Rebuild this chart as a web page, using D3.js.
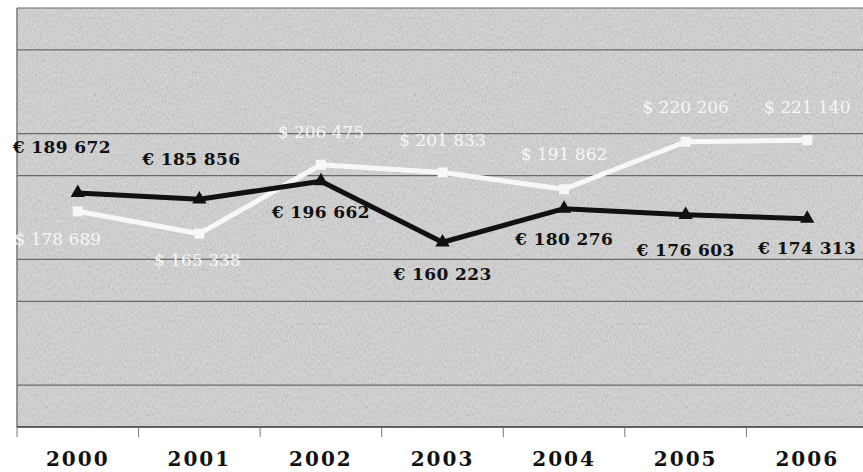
<!DOCTYPE html>
<html>
<head>
<meta charset="utf-8">
<script src="https://cdn.jsdelivr.net/npm/d3@7"></script>
<style>
  body { margin: 0; background: #fff; }
  svg { display: block; }
</style>
</head>
<body>
<div id="chart"></div>
<script>
// data
var years = ["2000", "2001", "2002", "2003", "2004", "2005", "2006"];
var euroValues = [189672, 185856, 196662, 160223, 180276, 176603, 174313];
var dollarValues = [178689, 165338, 206475, 201833, 191862, 220206, 221140];
var gridValues = [75000, 125000, 150000, 200000, 225000, 275000, 300000];

// where each value label sits relative to its point (px)
var euroLabelDx = [-16, -8, 0, 0, 0, 0, 0];
var euroLabelDy = [-46, -40, 31, 32, 30, 35, 29];
var dollarLabelDx = [-20, -2, 0, 0, 0, 0, 0];
var dollarLabelDy = [28, 26, -33, -33, -35, -35, -33];

var svgWidth = 863;
var svgHeight = 472;

var plot = { left: 17, right: 868, top: 8, bottom: 427 };

var svg = d3.select("#chart")
  .append("svg")
  .attr("width", svgWidth)
  .attr("height", svgHeight);

// grainy scanned-looking background
var defs = svg.append("defs");
var grain = defs.append("filter")
  .attr("id", "grain")
  .attr("x", 0).attr("y", 0).attr("width", "100%").attr("height", "100%");
grain.append("feTurbulence")
  .attr("type", "fractalNoise")
  .attr("baseFrequency", "0.8 0.35")
  .attr("numOctaves", 2)
  .attr("seed", 4)
  .attr("result", "noise");
grain.append("feColorMatrix")
  .attr("in", "noise")
  .attr("type", "matrix")
  .attr("values", "0.33 0.33 0.33 0 0  0.33 0.33 0.33 0 0  0.33 0.33 0.33 0 0  0 0 0 0 0.4");

var x = d3.scaleBand()
  .domain(years)
  .range([plot.left, plot.right])
  .padding(0);

var y = d3.scaleLinear()
  .domain([50000, 300000])
  .range([plot.bottom, plot.top]);

var cx = d => x(d) + x.bandwidth() / 2;

svg.append("rect")
  .attr("x", plot.left)
  .attr("y", plot.top)
  .attr("width", plot.right - plot.left)
  .attr("height", plot.bottom - plot.top)
  .attr("fill", "#dadada");

svg.append("rect")
  .attr("x", plot.left)
  .attr("y", plot.top)
  .attr("width", plot.right - plot.left)
  .attr("height", plot.bottom - plot.top)
  .attr("filter", "url(#grain)");

// gridlines
svg.append("g")
  .attr("class", "grid")
  .selectAll("line")
  .data(gridValues)
  .enter()
  .append("line")
  .attr("x1", plot.left)
  .attr("x2", plot.right)
  .attr("y1", d => y(d))
  .attr("y2", d => y(d))
  .attr("stroke", "#6a6a6a")
  .attr("stroke-width", 1.2);

// left border
svg.append("line")
  .attr("x1", plot.left).attr("x2", plot.left)
  .attr("y1", plot.top).attr("y2", plot.bottom)
  .attr("stroke", "#777")
  .attr("stroke-width", 1.5);

// x axis: line, boundary ticks, year labels
var bottomAxis = d3.axisBottom(x).tickSize(0).tickPadding(25);
var xAxis = svg.append("g")
  .attr("transform", `translate(0, ${plot.bottom})`)
  .call(bottomAxis);
xAxis.select(".domain").remove();
xAxis.selectAll("text")
  .attr("font-family", "'DejaVu Serif', serif")
  .attr("font-weight", "bold")
  .attr("font-size", "20px")
  .attr("letter-spacing", "2px")
  .attr("fill", "#111");

svg.append("line")
  .attr("x1", plot.left).attr("x2", plot.right)
  .attr("y1", plot.bottom).attr("y2", plot.bottom)
  .attr("stroke", "#333")
  .attr("stroke-width", 1.5);

svg.append("g")
  .selectAll("line")
  .data(years)
  .enter()
  .append("line")
  .attr("x1", d => x(d))
  .attr("x2", d => x(d))
  .attr("y1", plot.bottom)
  .attr("y2", plot.bottom + 10)
  .attr("stroke", "#777")
  .attr("stroke-width", 1);

var line = d3.line()
  .x((d, i) => cx(years[i]))
  .y(d => y(d));

// dollar series (white, squares)
svg.append("path")
  .datum(dollarValues)
  .attr("d", line)
  .attr("fill", "none")
  .attr("stroke", "#f7f7f7")
  .attr("stroke-width", 5)
  .attr("stroke-linejoin", "round");

svg.append("g")
  .selectAll("rect")
  .data(dollarValues)
  .enter()
  .append("rect")
  .attr("x", (d, i) => cx(years[i]) - 5)
  .attr("y", d => y(d) - 5)
  .attr("width", 10)
  .attr("height", 10)
  .attr("fill", "#f7f7f7");

// euro series (black, triangles)
svg.append("path")
  .datum(euroValues)
  .attr("d", line)
  .attr("fill", "none")
  .attr("stroke", "#111")
  .attr("stroke-width", 5)
  .attr("stroke-linejoin", "round");

var tri = d3.symbol().type(d3.symbolTriangle).size(90);
svg.append("g")
  .selectAll("path")
  .data(euroValues)
  .enter()
  .append("path")
  .attr("d", tri)
  .attr("transform", (d, i) => `translate(${cx(years[i])}, ${y(d)})`)
  .attr("fill", "#111");

var fmt = v => d3.format(",")(v).replace(/,/g, " ");

// value labels
svg.append("g")
  .selectAll("text")
  .data(dollarValues)
  .enter()
  .append("text")
  .attr("x", (d, i) => cx(years[i]) + dollarLabelDx[i])
  .attr("y", (d, i) => y(d) + dollarLabelDy[i] + 6)
  .attr("text-anchor", "middle")
  .attr("font-family", "'DejaVu Serif', serif")
  .attr("font-size", "17px")
  .attr("fill", "#f6f6f6")
  .text(d => "$ " + fmt(d));

svg.append("g")
  .selectAll("text")
  .data(euroValues)
  .enter()
  .append("text")
  .attr("x", (d, i) => cx(years[i]) + euroLabelDx[i])
  .attr("y", (d, i) => y(d) + euroLabelDy[i] + 6)
  .attr("text-anchor", "middle")
  .attr("font-family", "'DejaVu Serif', serif")
  .attr("font-weight", "bold")
  .attr("font-size", "17px")
  .attr("letter-spacing", "0.4px")
  .attr("fill", "#111")
  .text(d => "€ " + fmt(d));
</script>
</body>
</html>
